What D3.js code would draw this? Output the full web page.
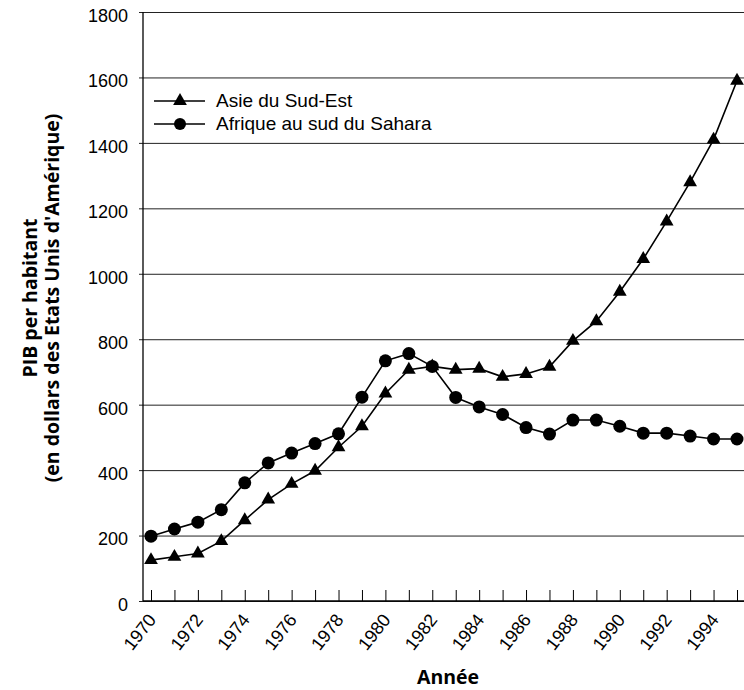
<!DOCTYPE html>
<html>
<head>
<meta charset="utf-8">
<script src="https://cdn.jsdelivr.net/npm/d3@7"></script>
<style>
  body { margin: 0; background: #fff; }
  text { font-family: "Liberation Sans", Arial, sans-serif; }
</style>
</head>
<body>
<div id="root"></div>
<script>
//DATA
const years = d3.range(1970, 1996);
const asie = [125, 135, 145, 183, 247, 310, 358, 398, 470, 534, 634, 707, 717, 707, 710, 685, 694, 716, 795, 855, 945, 1045, 1160, 1280, 1410, 1590];
const afrique = [198, 220, 241, 279, 361, 422, 452, 481, 511, 623, 734, 756, 717, 622, 593, 570, 530, 510, 553, 553, 534, 513, 513, 504, 495, 495];
const seriesNames = ["Asie du Sud-Est", "Afrique au sud du Sahara"];
const yTicks = [0, 200, 400, 600, 800, 1000, 1200, 1400, 1600, 1800];
const xLabels = d3.range(1970, 1995, 2);

//DIMENSIONS
const W = 744, H = 690;
const margin = {top: 12, right: 0, bottom: 89, left: 143};
const width = W - margin.left - margin.right;
const height = H - margin.top - margin.bottom;

//CREATE SVG
const root = d3.select('#root').append('svg')
  .attr('width', W)
  .attr('height', H);

const svg = root.append('g')
  .attr('transform', `translate(${margin.left},${margin.top})`);

//SCALES
const x = d3.scaleLinear().domain([1970, 1995]).range([8, 594]);
const y = d3.scaleLinear().domain([0, 1800]).range([height, 0]);

//GRIDLINES + Y AXIS
const yAxis = svg.append('g')
  .call(d3.axisLeft(y).tickValues(yTicks).tickSize(-width).tickPadding(15).tickFormat(d3.format('d')));
yAxis.select('.domain').remove();
yAxis.selectAll('.tick line')
  .attr('x1', -4)
  .attr('stroke', '#222')
  .attr('stroke-width', 1);
yAxis.selectAll('.tick text')
  .attr('font-size', 18)
  .attr('dy', '0.52em')
  .attr('fill', '#000')
  .attr('font-family', '"Liberation Sans", Arial, sans-serif');

svg.append('line')
  .attr('x1', 0).attr('x2', 0)
  .attr('y1', 0).attr('y2', height)
  .attr('stroke', '#000').attr('stroke-width', 1.3);

//X AXIS
const xAxis = svg.append('g')
  .attr('transform', `translate(0,${height})`)
  .call(d3.axisBottom(x).tickValues(years).tickSize(-11).tickFormat(''));
xAxis.select('.domain').attr('d', `M0,0H${width}`).attr('stroke', '#000').attr('stroke-width', 1.3);
xAxis.selectAll('.tick line').attr('stroke', '#000');

xAxis.selectAll('.xlab')
  .data(xLabels)
  .enter().append('text')
  .attr('class', 'xlab')
  .attr('transform', d => `translate(${x(d) + 6},${19}) rotate(-52)`)
  .attr('text-anchor', 'end')
  .attr('font-size', 18)
  .attr('fill', '#000')
  .text(d => d);

//AXIS TITLES
root.append('text')
  .attr('transform', 'translate(37,298) rotate(-90)')
  .attr('text-anchor', 'middle')
  .attr('font-size', 19.5)
  .attr('font-weight', 'bold')
  .style('font-family', '"Open Sans", sans-serif')
  .text('PIB per habitant');

root.append('text')
  .attr('transform', 'translate(59,298) rotate(-90)')
  .attr('text-anchor', 'middle')
  .attr('font-size', 19.5)
  .attr('font-weight', 'bold')
  .style('font-family', '"Open Sans", sans-serif')
  .text("(en dollars des Etats Unis d'Amérique)");

root.append('text')
  .attr('x', 448)
  .attr('y', 684)
  .attr('text-anchor', 'middle')
  .attr('font-size', 19.5)
  .attr('font-weight', 'bold')
  .style('font-family', '"Open Sans", sans-serif')
  .text('Année');

//LINES
const line = d3.line()
  .x((d, i) => x(years[i]))
  .y(d => y(d));

const tri = d3.symbol().type(d3.symbolTriangle).size(82);

function drawSeries(values, shape) {
  svg.append('path')
    .datum(values)
    .attr('fill', 'none')
    .attr('stroke', '#000')
    .attr('stroke-width', 1.6)
    .attr('d', line);

  if (shape === 'circle') {
    svg.selectAll(null)
      .data(values)
      .enter().append('circle')
      .attr('cx', (d, i) => x(years[i]))
      .attr('cy', d => y(d))
      .attr('r', 6.5)
      .attr('fill', '#000');
  } else {
    svg.selectAll(null)
      .data(values)
      .enter().append('path')
      .attr('d', tri)
      .attr('transform', (d, i) => `translate(${x(years[i])},${y(d)})`)
      .attr('fill', '#000');
  }
}

drawSeries(asie, 'triangle');
drawSeries(afrique, 'circle');

//LEGEND
const legend = root.append('g').attr('transform', 'translate(154,101)');
seriesNames.forEach((name, i) => {
  const g = legend.append('g').attr('transform', `translate(0,${i * 23})`);
  g.append('line')
    .attr('x1', 0).attr('x2', 51)
    .attr('stroke', '#000').attr('stroke-width', 1.6);
  if (i === 0) {
    g.append('path').attr('d', tri).attr('transform', 'translate(26,0)').attr('fill', '#000');
  } else {
    g.append('circle').attr('cx', 26).attr('r', 6).attr('fill', '#000');
  }
  g.append('text')
    .attr('x', 62)
    .attr('y', 6)
    .attr('font-size', 19)
    .attr('fill', '#000')
    .text(name);
});
</script>
</body>
</html>
